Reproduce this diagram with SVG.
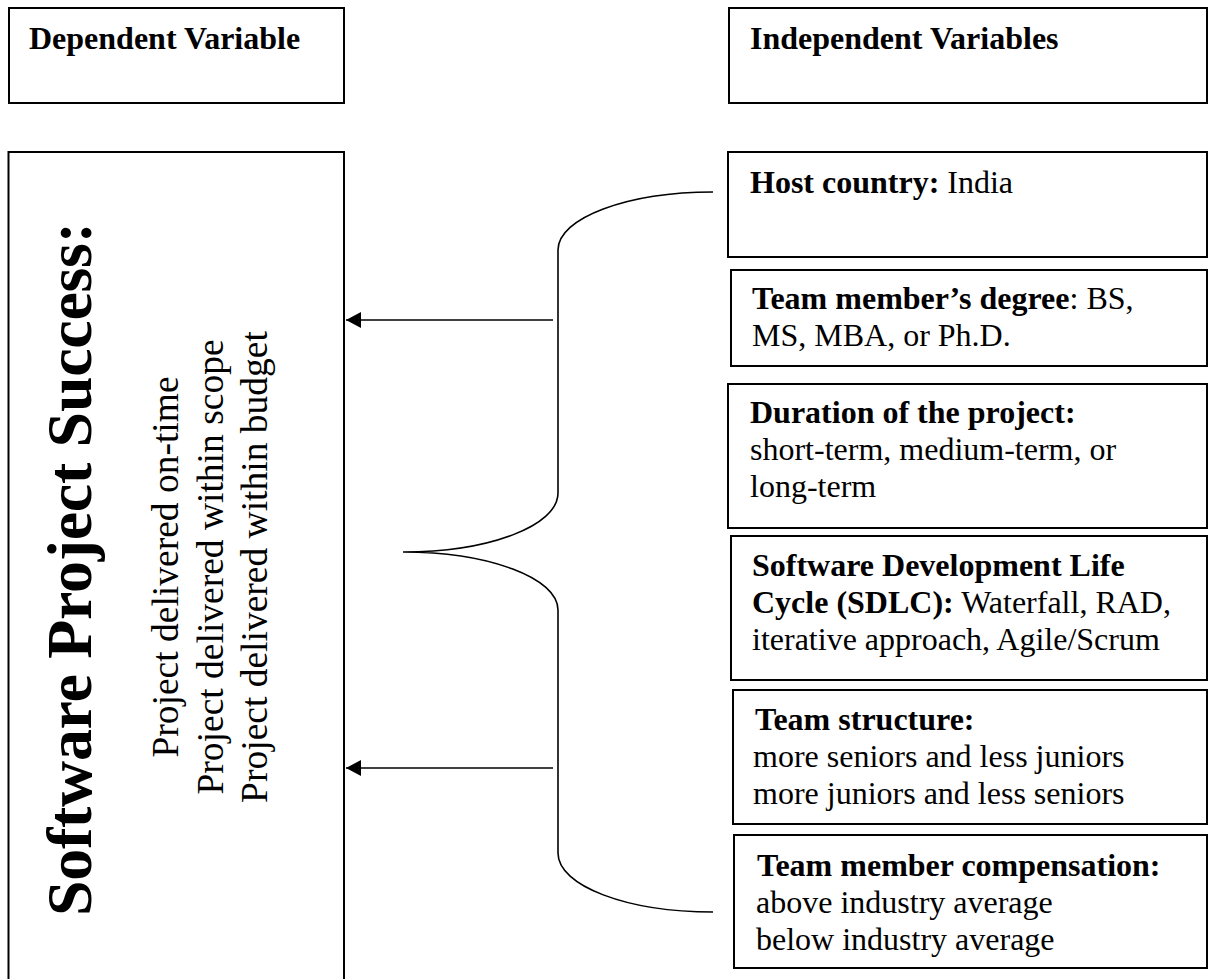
<svg xmlns="http://www.w3.org/2000/svg" width="1208" height="979" viewBox="0 0 1208 979">
<style>
.box{fill:#fff;stroke:#000;stroke-width:2}
.t{font-family:"Liberation Serif","Times New Roman",serif;font-size:32px;fill:#000}
.b{font-weight:bold}
.conn{fill:none;stroke:#000;stroke-width:1.6}
</style>
<defs>
<marker id="ah" markerUnits="userSpaceOnUse" markerWidth="16" markerHeight="16" refX="15" refY="8" orient="auto" viewBox="0 0 16 16">
<path d="M0,0 L15,8 L0,16 Z" fill="#000"/>
</marker>
</defs>
<rect width="1208" height="979" fill="#fff"/>
<g id="dep-header">
<rect class="box" x="9" y="8" width="335" height="95"/>
<text class="t b" x="29" y="49">Dependent Variable</text>
</g>
<g id="indep-header">
<rect class="box" x="729" y="8" width="478" height="95"/>
<text class="t b" x="750" y="49">Independent Variables</text>
</g>
<g id="success">
<rect class="box" x="8.5" y="152" width="335.5" height="840"/>
<text class="t b" transform="translate(91,569) rotate(-90)" text-anchor="middle" style="font-size:64px" textLength="694" lengthAdjust="spacing">Software Project Success:</text>
<text class="t" transform="translate(178,567) rotate(-90)" text-anchor="middle" style="font-size:37.5px">Project delivered on-time</text>
<text class="t" transform="translate(223,567) rotate(-90)" text-anchor="middle" style="font-size:37.5px">Project delivered within scope</text>
<text class="t" transform="translate(267,567) rotate(-90)" text-anchor="middle" style="font-size:37.5px">Project delivered within budget</text>
</g>
<g id="host">
<rect class="box" x="728" y="152" width="479" height="105"/>
<text class="t" x="750" y="193"><tspan class="b">Host country:</tspan> India</text>
</g>
<g id="degree">
<rect class="box" x="731" y="270" width="476" height="96"/>
<text class="t" x="752" y="309"><tspan class="b">Team member’s degree</tspan>: BS,</text>
<text class="t" x="752" y="346">MS, MBA, or Ph.D.</text>
</g>
<g id="duration">
<rect class="box" x="728" y="384" width="479" height="144"/>
<text class="t b" x="750" y="423">Duration of the project:</text>
<text class="t" x="750" y="460">short-term, medium-term, or</text>
<text class="t" x="750" y="497">long-term</text>
</g>
<g id="sdlc">
<rect class="box" x="731" y="536" width="476" height="144"/>
<text class="t b" x="752" y="576">Software Development Life</text>
<text class="t" x="752" y="613"><tspan class="b">Cycle (SDLC):</tspan> Waterfall, RAD,</text>
<text class="t" x="752" y="650">iterative approach, Agile/Scrum</text>
</g>
<g id="structure">
<rect class="box" x="733" y="690" width="474" height="134"/>
<text class="t b" x="755" y="730">Team structure:</text>
<text class="t" x="753" y="767">more seniors and less juniors</text>
<text class="t" x="753" y="804">more juniors and less seniors</text>
</g>
<g id="compensation">
<rect class="box" x="734" y="835" width="473" height="133"/>
<text class="t b" x="757" y="876">Team member compensation:</text>
<text class="t" x="756" y="913">above industry average</text>
<text class="t" x="756" y="950">below industry average</text>
</g>
<g id="connectors">
<path class="conn" d="M713,192 C627,192 558,218 558,250 L558,493 C558,526 489,552 403,552 C489,552 558,578 558,610 L558,853 C558,886 627,912 713,912"/>
<line class="conn" x1="553" y1="320" x2="346" y2="320" marker-end="url(#ah)"/>
<line class="conn" x1="553" y1="768" x2="346" y2="768" marker-end="url(#ah)"/>
</g>
</svg>
